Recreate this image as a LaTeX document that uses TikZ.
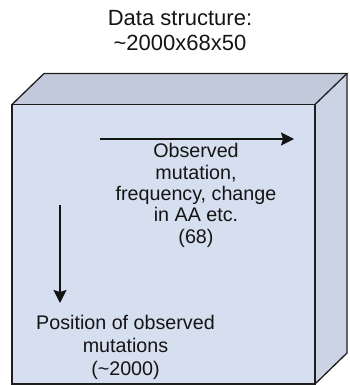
\documentclass[tikz,border=0pt]{standalone}
\usepackage{fontspec}
\setmainfont{Liberation Sans}
\usetikzlibrary{arrows.meta}
\definecolor{frontface}{RGB}{213,223,240}
\definecolor{topface}{RGB}{193,201,218}
\definecolor{sideface}{RGB}{203,211,228}
\definecolor{edgecol}{RGB}{30,30,30}
\definecolor{inkcol}{RGB}{20,20,20}
\tikzset{
  boxedge/.style={draw=edgecol, line width=1.3pt, line join=miter},
  axisarrow/.style={draw=inkcol, line width=1.4pt, -{Stealth[length=13pt,width=13pt,inset=2pt]}},
  titletext/.style={inner sep=0pt, align=center, text=inkcol, font=\fontsize{22}{25}\selectfont},
  labeltext/.style={inner sep=0pt, align=center, text=inkcol},
}
\begin{document}
\begin{tikzpicture}[x=1pt,y=-1pt]
  \useasboundingbox (0,0) rectangle (349,385);

  % corners of the block (front face and back edges)
  \coordinate (ftl) at (12,104.5);
  \coordinate (ftr) at (315,104.5);
  \coordinate (fbl) at (12,384);
  \coordinate (fbr) at (315,384);
  \coordinate (btl) at (44,73.5);
  \coordinate (btr) at (347,73.5);
  \coordinate (bbr) at (347,353);

  % faces
  \fill[topface] (ftl) -- (btl) -- (btr) -- (ftr) -- cycle;
  \fill[sideface] (ftr) -- (btr) -- (bbr) -- (fbr) -- cycle;
  \fill[frontface] (ftl) -- (ftr) -- (fbr) -- (fbl) -- cycle;

  % edges
  \draw[boxedge] (ftl) -- (btl) -- (btr) -- (ftr);
  \draw[boxedge] (btr) -- (bbr) -- (fbr);
  \draw[boxedge] (ftl) rectangle (fbr);

  % title
  \node[titletext] (title) at (180,31) {Data structure:\\\textasciitilde 2000x68x50};

  % axis along the columns
  \coordinate (colstart) at (100,139);
  \coordinate (colend) at (294,139);
  \draw[axisarrow] (colstart) -- (colend);
  \node[labeltext, font=\fontsize{19.7}{21.3}\selectfont] (collabel) at (196,195.4)
    {Observed\\mutation,\\frequency, change\\in AA etc.\\(68)};

  % axis along the rows
  \coordinate (rowstart) at (60,205);
  \coordinate (rowend) at (60,303);
  \draw[axisarrow] (rowstart) -- (rowend);
  \node[labeltext, font=\fontsize{19.7}{23}\selectfont] (rowlabel) at (125.5,346.9)
    {Position of observed\\mutations\\(\textasciitilde 2000)};
\end{tikzpicture}
\end{document}
